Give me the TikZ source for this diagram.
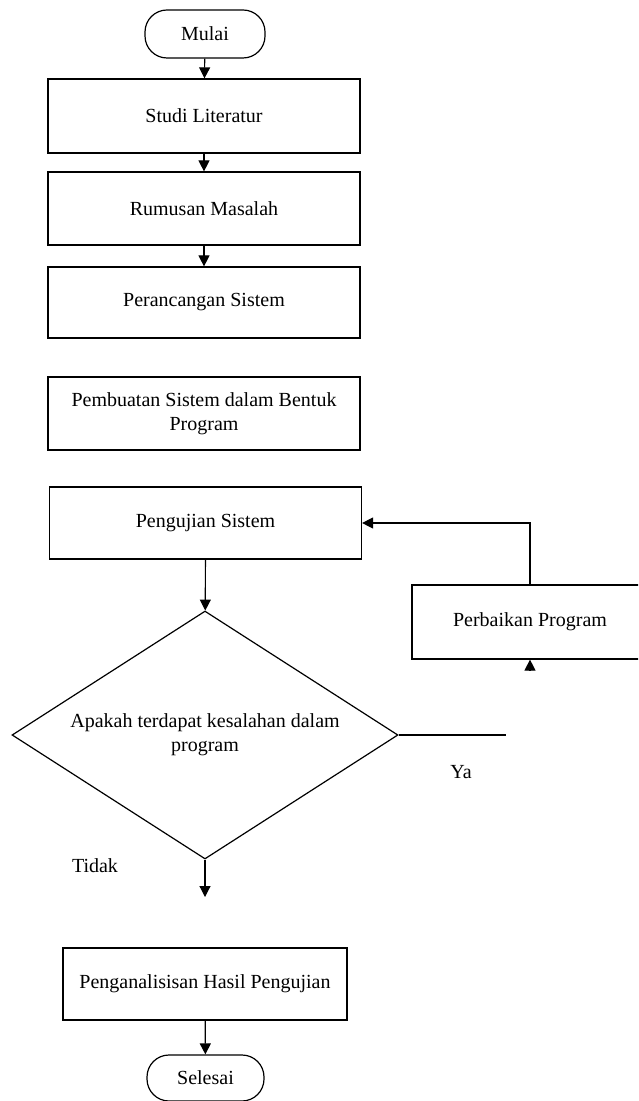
\documentclass[tikz,border=0pt]{standalone}
\usepackage{fontspec}
\setmainfont{Liberation Serif}
\usetikzlibrary{arrows.meta, shapes.geometric}
\tikzset{
    process/.style={draw, rectangle, line width=0.6pt, minimum width=156pt, minimum height=36pt, align=center, inner sep=2pt},
    terminal/.style={draw, rectangle, rounded corners=11pt, line width=0.6pt, minimum width=60pt, minimum height=24pt},
    decision/.style={draw, diamond, aspect=1.556, line width=0.6pt, minimum width=193pt, minimum height=124pt, inner sep=0pt, align=center},
    flow/.style={-{Triangle[width=5.5pt, length=5.5pt]}, line width=0.6pt},
    link/.style={line width=0.6pt}
}

\begin{document}
\begin{tikzpicture}[x=0.5pt, y=-0.5pt]
    \clip (0,0) rectangle (638,1101);
    % main column
    \node[terminal] (mulai) at (205,34) {Mulai};
    \node[process, minimum height=37pt] (studi) at (204,116) {Studi Literatur};
    \node[process, minimum height=36.5pt] (rumusan) at (204,208.5) {Rumusan Masalah};
    \node[process, minimum height=35.5pt] (perancangan) at (204,302.5) {Perancangan Sistem};
    \node[process, minimum height=36.5pt] (pembuatan) at (204,413.5) {Pembuatan Sistem dalam Bentuk\\Program};
    \node[process] (pengujian) at (205.5,523) {Pengujian Sistem};
    \node[decision] (cek) at (205,735) {Apakah terdapat kesalahan dalam\\program};
    \node[process, minimum width=142pt] (analisis) at (205,984) {Penganalisisan Hasil Pengujian};
    \node[terminal, minimum width=58.5pt, minimum height=23pt] (selesai) at (205.5,1078) {Selesai};
    % loop back
    \node[process, minimum width=118pt, minimum height=37pt] (perbaikan) at (530,622) {Perbaikan Program};
    \coordinate (yaend) at (506,735);
    \coordinate (stub) at (530,670);
    \coordinate (tidakend) at (205,897);
    \node (ya) at (461,772) {Ya};
    \node (tidak) at (95,866) {Tidak};

    \draw[flow] (mulai) -- (studi);
    \draw[flow] (studi) -- (rumusan);
    \draw[flow] (rumusan) -- (perancangan);
    \draw[flow] (pengujian) -- (cek);
    \draw[link] (cek.east) -- (yaend);
    \draw[flow] (stub) -- (perbaikan.south);
    \draw[flow] (perbaikan.north) |- (pengujian.east);
    \draw[flow] (cek.south) -- (tidakend);
    \draw[flow] (analisis) -- (selesai);
\end{tikzpicture}
\end{document}
